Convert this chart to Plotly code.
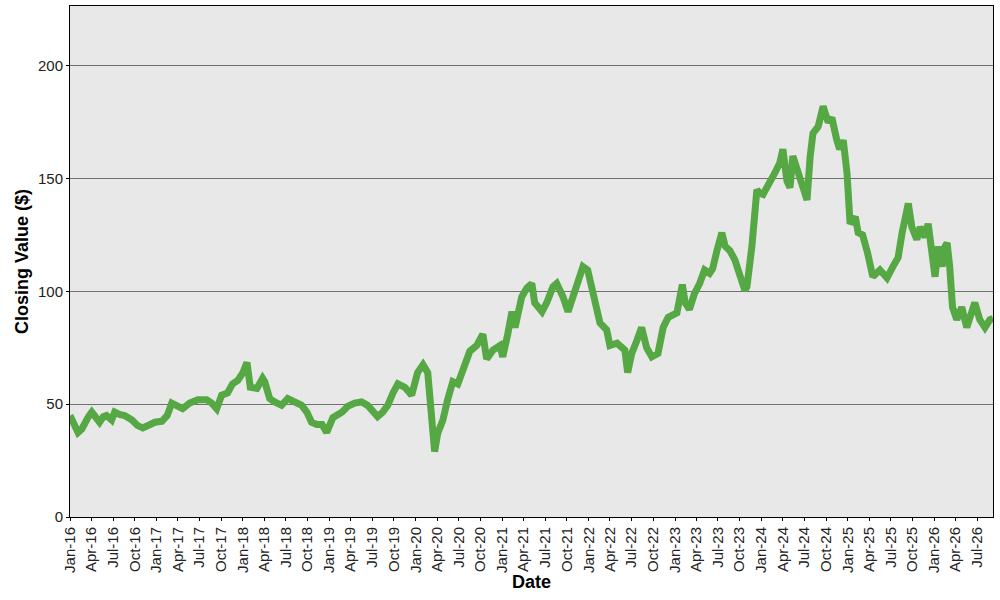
# -*- coding:utf-8 -*-

# import module
import plotly.graph_objects as go

# closing values (roughly every 2-3 weeks, incl. local highs / lows)
dates = [
    '2016-01-01', '2016-01-17', '2016-02-04', '2016-02-20', '2016-03-03', '2016-03-19',
    '2016-04-02', '2016-04-23', '2016-05-05', '2016-05-21', '2016-06-03', '2016-06-25',
    '2016-07-08', '2016-07-28', '2016-08-19', '2016-09-19', '2016-10-13', '2016-11-04',
    '2016-12-04', '2016-12-25',
    '2017-01-24', '2017-02-15', '2017-03-06', '2017-04-01', '2017-04-21', '2017-05-21',
    '2017-06-24', '2017-08-01', '2017-08-22', '2017-09-12', '2017-10-03', '2017-10-28',
    '2017-11-18', '2017-12-10',
    '2018-01-01', '2018-01-18', '2018-02-01', '2018-03-01', '2018-03-25', '2018-04-03',
    '2018-04-24', '2018-05-15', '2018-06-13', '2018-07-09', '2018-08-08', '2018-09-06',
    '2018-09-28', '2018-10-18', '2018-11-09', '2018-12-01', '2018-12-21',
    '2019-01-16', '2019-02-24', '2019-03-19', '2019-04-18', '2019-05-17', '2019-06-12',
    '2019-07-03', '2019-07-24', '2019-08-15', '2019-09-05', '2019-09-27', '2019-10-18',
    '2019-11-16', '2019-12-15',
    '2020-01-09', '2020-02-01', '2020-02-21', '2020-03-09', '2020-03-21', '2020-04-03',
    '2020-04-25', '2020-05-15', '2020-06-06', '2020-06-27', '2020-07-18', '2020-08-17',
    '2020-09-15', '2020-10-11', '2020-10-27', '2020-11-23', '2020-12-22',
    '2021-01-03', '2021-01-24', '2021-02-11', '2021-02-24', '2021-03-07', '2021-03-24',
    '2021-04-15', '2021-05-06', '2021-05-18', '2021-06-18', '2021-07-08', '2021-08-03',
    '2021-08-19', '2021-09-15', '2021-10-06', '2021-10-27', '2021-11-18', '2021-12-08',
    '2021-12-28',
    '2022-01-19', '2022-02-06', '2022-02-18', '2022-03-18', '2022-04-01', '2022-05-01',
    '2022-05-21', '2022-06-03', '2022-06-15', '2022-07-02', '2022-07-23', '2022-08-13',
    '2022-09-03', '2022-09-25', '2022-10-21', '2022-11-12', '2022-12-03',
    '2023-01-09', '2023-02-01', '2023-02-13', '2023-03-03', '2023-03-24', '2023-04-15',
    '2023-05-06', '2023-05-27', '2023-06-09', '2023-06-27', '2023-07-18', '2023-08-01',
    '2023-08-21', '2023-09-11', '2023-10-02', '2023-10-23', '2023-11-01', '2023-11-22',
    '2023-12-13', '2023-12-25',
    '2024-01-08', '2024-02-06', '2024-02-27', '2024-03-19', '2024-04-01', '2024-04-18',
    '2024-05-01', '2024-05-13', '2024-06-03', '2024-06-21', '2024-07-12', '2024-07-25',
    '2024-08-06', '2024-08-28', '2024-09-18', '2024-10-09', '2024-10-25', '2024-11-15',
    '2024-11-27', '2024-12-12', '2024-12-28',
    '2025-01-10', '2025-02-01', '2025-02-13', '2025-03-04', '2025-03-25', '2025-04-16',
    '2025-05-16', '2025-06-15', '2025-07-10', '2025-08-01', '2025-08-18', '2025-08-31',
    '2025-09-13', '2025-09-28', '2025-10-19', '2025-11-02', '2025-11-23', '2025-12-06',
    '2025-12-22',
    '2026-01-04', '2026-01-18', '2026-02-03', '2026-02-16', '2026-02-24', '2026-03-07',
    '2026-03-19', '2026-04-06', '2026-04-27', '2026-05-18', '2026-06-09', '2026-06-21',
    '2026-07-12', '2026-08-03', '2026-08-24', '2026-09-06',
]

closing_values = [
    45, 41, 37.5, 39, 42, 44.5,
    46.5, 44, 42, 44.5, 45, 43,
    46.5, 45.5, 45, 43, 40.5, 39.5,
    41.5, 42,
    42.5, 45, 50.5, 49.5, 48, 50.5,
    52, 52, 50.5, 48, 54, 55,
    59, 60.5,
    64, 68.5, 57.5, 57, 61.5, 60,
    52.5, 51, 49.5, 52.5, 51, 49.5,
    46.5, 42, 41, 41, 37.5,
    44, 46.5, 49, 50.5, 51, 49.5,
    46.5, 44.5, 46.5, 49.5, 55, 59,
    57.5, 54,
    64, 67.5, 64, 46, 29, 37,
    43, 52, 60, 59, 66, 73.5,
    76, 81, 70, 74, 76,
    71, 81, 91, 84, 89, 97.5,
    101.5, 103.5, 95, 91, 95, 102,
    103.5, 97.5, 91, 97.5, 105, 111,
    109.5,
    100.5, 91, 86, 83, 76, 77,
    75, 74, 64, 72.5, 78, 84,
    75, 71, 72.5, 84, 88.5,
    90.5, 103, 95, 92, 99, 103.5,
    109.5, 108, 110, 118, 126, 120,
    118, 114, 108, 100.5, 102, 120,
    145, 143.5,
    143, 148, 152.5, 157, 163, 149,
    146, 160, 153, 145, 140.5, 159.5,
    170, 173, 182, 175, 177, 167,
    163, 167, 152.5,
    130, 133, 126, 125, 117, 106.5,
    109.5, 106, 111, 115, 126, 134.5,
    139, 128.5, 123, 128.5, 124, 130,
    117,
    106.5, 120, 111, 120, 121.5, 111,
    93, 87.5, 93, 84, 90.5, 95,
    87.5, 84, 87.5, 88,
]

y_ticks = [0, 50, 100, 150, 200]

fig = go.Figure()

fig.add_trace(go.Scatter(
    x=dates,
    y=closing_values,
    mode='lines',
    line=dict(color='#55a843', width=7),
    showlegend=False,
))

fig.update_layout(
    width=1000,
    height=600,
    margin=dict(l=70, r=7, t=6, b=83),
    paper_bgcolor='white',
    plot_bgcolor='#e8e8e8',
    font=dict(family='Liberation Sans, Arial, sans-serif', size=14, color='#222222'),
    xaxis=dict(
        title=dict(text='<b>Date</b>', font=dict(size=18, color='black'), standoff=2),
        type='date',
        range=['2016-01-01', '2026-09-06'],
        tick0='2016-01-01',
        dtick='M3',
        tickformat='%b-%y',
        tickangle=-90,
        tickfont=dict(size=15),
        ticks='outside',
        ticklen=3,
        tickcolor='black',
        showgrid=False,
        showline=True,
        linecolor='black',
        linewidth=1,
        mirror=True,
        zeroline=False,
        automargin=False,
    ),
    yaxis=dict(
        title=dict(text='<b>Closing Value ($)</b>', font=dict(size=18, color='black'), standoff=4),
        range=[0, 226.5],
        tickvals=y_ticks,
        tickfont=dict(size=15),
        ticks='outside',
        ticklen=3,
        tickcolor='black',
        showgrid=True,
        gridcolor='#707070',
        gridwidth=1,
        showline=True,
        linecolor='black',
        linewidth=1,
        mirror=True,
        zeroline=False,
        automargin=False,
    ),
)

# drop the default page margin so the figure sits at the window's top-left corner
fig.write_html('out.html', config={'displayModeBar': False},
               post_script="document.body.style.margin = '0px';")
